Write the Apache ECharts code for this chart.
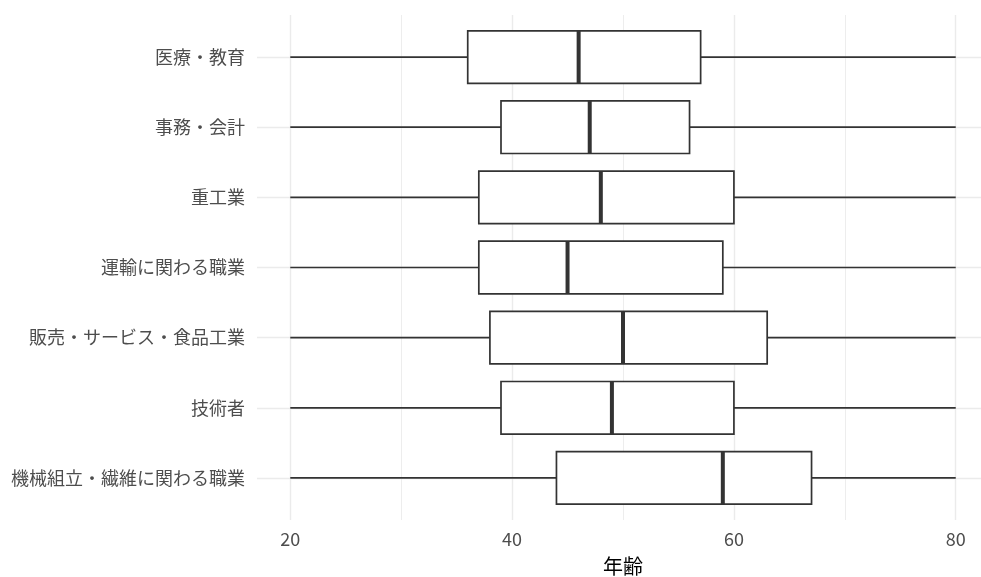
<!DOCTYPE html>
<html>
<head>
<meta charset="utf-8">
<script src="https://cdn.jsdelivr.net/npm/echarts@6/dist/echarts.min.js"></script>
<style>
  html, body { margin: 0; padding: 0; background: #ffffff; }
  #chart { width: 981px; height: 577px; }
</style>
</head>
<body>
<div id="chart"></div>
<script>
// Occupations, listed top to bottom
const categories = [
  '医療・教育',
  '事務・会計',
  '重工業',
  '運輸に関わる職業',
  '販売・サービス・食品工業',
  '技術者',
  '機械組立・繊維に関わる職業'
];
// Five-number summary of age per occupation
const lowerWhisker = [20, 20, 20, 20, 20, 20, 20];
const q1           = [36, 39, 37, 37, 38, 39, 44];
const median       = [46, 47, 48, 45, 50, 49, 59];
const q3           = [57, 56, 60, 59, 63, 60, 67];
const upperWhisker = [80, 80, 80, 80, 80, 80, 80];

const majorTicks = [20, 40, 60, 80];
const minorTicks = [30, 50, 70];
const rowTicks = categories.map((_, i) => i);

const boxData = categories.map((_, i) =>
  [i, lowerWhisker[i], q1[i], median[i], q3[i], upperWhisker[i]]);

const FONT = '"Noto Sans CJK JP", "Noto Sans", sans-serif';
const INK = '#333333';

function renderBox(params, api) {
  const row = api.value(0);
  const pLo = api.coord([api.value(1), row]);
  const pQ1 = api.coord([api.value(2), row]);
  const pMed = api.coord([api.value(3), row]);
  const pQ3 = api.coord([api.value(4), row]);
  const pHi = api.coord([api.value(5), row]);
  const half = Math.abs(api.size([0, 1])[1]) * 0.75 / 2;
  const y = pMed[1];
  const lineStyle = { stroke: INK, lineWidth: 1.7 };
  return {
    type: 'group',
    children: [
      { type: 'line', shape: { x1: pLo[0], y1: y, x2: pQ1[0], y2: y }, style: lineStyle },
      { type: 'line', shape: { x1: pQ3[0], y1: y, x2: pHi[0], y2: y }, style: lineStyle },
      { type: 'rect',
        shape: { x: pQ1[0], y: y - half, width: pQ3[0] - pQ1[0], height: half * 2 },
        style: { fill: '#ffffff', stroke: INK, lineWidth: 1.7 } },
      { type: 'line', shape: { x1: pMed[0], y1: y - half, x2: pMed[0], y2: y + half },
        style: { stroke: INK, lineWidth: 4 } }
    ]
  };
}

const chart = echarts.init(document.getElementById('chart'), null, { renderer: 'canvas' });
chart.setOption({
  animation: false,
  backgroundColor: '#ffffff',
  grid: { left: 257, right: -8, top: 15, bottom: 57, containLabel: false, outerBoundsMode: 'none' },
  xAxis: [
    {
      type: 'value', min: 17, max: 83, position: 'bottom',
      axisLine: { show: false },
      axisTick: { show: false, customValues: majorTicks },
      axisLabel: { customValues: majorTicks, color: '#4d4d4d', fontSize: 18, fontFamily: FONT, margin: 10 },
      splitLine: { show: true, lineStyle: { color: '#ebebeb', width: 1.4 } },
      name: '年齢', nameLocation: 'middle', nameGap: 36,
      nameTextStyle: { color: '#000000', fontSize: 20, fontFamily: FONT }
    },
    {
      type: 'value', min: 17, max: 83, position: 'bottom',
      axisLine: { show: false },
      axisTick: { show: false, customValues: minorTicks },
      axisLabel: { show: false, customValues: minorTicks },
      splitLine: { show: true, lineStyle: { color: '#ebebeb', width: 0.9 } }
    }
  ],
  yAxis: {
    type: 'value', min: -0.6, max: 6.6, inverse: true,
    axisLine: { show: false },
    axisTick: { show: false, customValues: rowTicks },
    axisLabel: {
      customValues: rowTicks,
      formatter: v => categories[Math.round(v)] || '',
      color: '#4d4d4d', fontSize: 18, fontFamily: FONT, margin: 12
    },
    splitLine: { show: true, lineStyle: { color: '#ebebeb', width: 1.4 } }
  },
  series: [{
    type: 'custom',
    xAxisIndex: 0,
    yAxisIndex: 0,
    renderItem: renderBox,
    encode: { x: [1, 2, 3, 4, 5], y: 0 },
    data: boxData
  }]
});
</script>
</body>
</html>
